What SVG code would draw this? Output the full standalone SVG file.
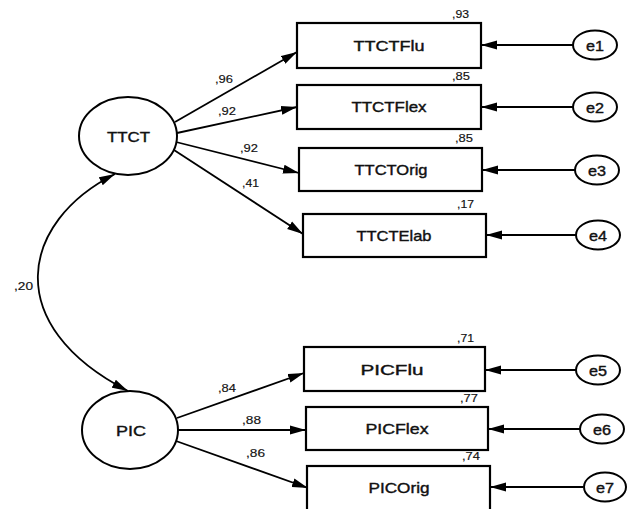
<svg xmlns="http://www.w3.org/2000/svg" width="627" height="509" viewBox="0 0 627 509">
<defs>
<style>
.box{fill:#fff;stroke:#000;stroke-width:2.2}
.lat{fill:#fff;stroke:#000;stroke-width:2}
.err{fill:#fff;stroke:#000;stroke-width:2}
.lbl{font-family:"Liberation Sans",Arial,sans-serif;font-size:15px;fill:#111;stroke:#111;stroke-width:0.4;text-anchor:middle}
.num{font-family:"Liberation Sans",Arial,sans-serif;font-size:10.5px;fill:#111;stroke:#111;stroke-width:0.15}
.con{fill:none;stroke:#000;stroke-width:1.8;marker-end:url(#ah)}
</style>
<marker id="ah" viewBox="0 0 16 10" refX="16" refY="5" markerWidth="16" markerHeight="10" markerUnits="userSpaceOnUse" orient="auto-start-reverse">
<path d="M0,0.5 L16,5 L0,9.5 Z" fill="#000"/>
</marker>
</defs>
<rect width="627" height="509" fill="#fff"/>

<g id="connectors">
<path class="con" d="M115,174 C20,222 0,325 128,391" marker-start="url(#ah)"/>
<line class="con" x1="175" y1="122" x2="297" y2="52"/>
<line class="con" x1="177" y1="133" x2="297" y2="107"/>
<line class="con" x1="176" y1="142" x2="299" y2="173"/>
<line class="con" x1="174" y1="150" x2="303" y2="234"/>
<line class="con" x1="177" y1="418" x2="304" y2="373"/>
<line class="con" x1="178" y1="430" x2="306" y2="430"/>
<line class="con" x1="176" y1="441" x2="308" y2="488"/>
<line class="con" x1="573" y1="45" x2="481" y2="45"/>
<line class="con" x1="573" y1="107" x2="481" y2="107"/>
<line class="con" x1="575" y1="170" x2="482" y2="170"/>
<line class="con" x1="576" y1="235" x2="486" y2="235"/>
<line class="con" x1="576" y1="370" x2="485" y2="370"/>
<line class="con" x1="580" y1="429" x2="488" y2="429"/>
<line class="con" x1="583" y1="487" x2="490" y2="487"/>
<text class="num" x="215" y="83" textLength="18" lengthAdjust="spacingAndGlyphs">,96</text>
<text class="num" x="218" y="115" textLength="18" lengthAdjust="spacingAndGlyphs">,92</text>
<text class="num" x="240" y="152" textLength="18" lengthAdjust="spacingAndGlyphs">,92</text>
<text class="num" x="242" y="187" textLength="17" lengthAdjust="spacingAndGlyphs">,41</text>
<text class="num" x="218" y="392" textLength="18" lengthAdjust="spacingAndGlyphs">,84</text>
<text class="num" x="242" y="424" textLength="19" lengthAdjust="spacingAndGlyphs">,88</text>
<text class="num" x="246" y="457" textLength="19" lengthAdjust="spacingAndGlyphs">,86</text>
<text class="num" x="14" y="290" textLength="19" lengthAdjust="spacingAndGlyphs">,20</text>
</g>

<g id="TTCT">
<ellipse class="lat" cx="128" cy="136" rx="49" ry="39"/>
<text class="lbl" x="128.5" y="142" textLength="43" lengthAdjust="spacingAndGlyphs">TTCT</text>
</g>
<g id="PIC">
<ellipse class="lat" cx="130" cy="430" rx="48" ry="39"/>
<text class="lbl" x="131" y="436" textLength="30" lengthAdjust="spacingAndGlyphs">PIC</text>
</g>

<g id="TTCTFlu">
<rect class="box" x="297" y="23" width="184" height="45"/>
<text class="lbl" x="389" y="51" textLength="71" lengthAdjust="spacingAndGlyphs">TTCTFlu</text>
<text class="num" x="452" y="18" textLength="17" lengthAdjust="spacingAndGlyphs">,93</text>
</g>
<g id="TTCTFlex">
<rect class="box" x="297" y="85" width="184" height="44"/>
<text class="lbl" x="389" y="112" textLength="75" lengthAdjust="spacingAndGlyphs">TTCTFlex</text>
<text class="num" x="452" y="80" textLength="18" lengthAdjust="spacingAndGlyphs">,85</text>
</g>
<g id="TTCTOrig">
<rect class="box" x="299" y="148" width="183" height="43"/>
<text class="lbl" x="391" y="175" textLength="73" lengthAdjust="spacingAndGlyphs">TTCTOrig</text>
<text class="num" x="455" y="142" textLength="18" lengthAdjust="spacingAndGlyphs">,85</text>
</g>
<g id="TTCTElab">
<rect class="box" x="303" y="214" width="183" height="43"/>
<text class="lbl" x="394" y="241" textLength="75" lengthAdjust="spacingAndGlyphs">TTCTElab</text>
<text class="num" x="457" y="208" textLength="17" lengthAdjust="spacingAndGlyphs">,17</text>
</g>
<g id="PICFlu">
<rect class="box" x="304" y="347" width="181" height="44"/>
<text class="lbl" x="392" y="375" textLength="63" lengthAdjust="spacingAndGlyphs">PICFlu</text>
<text class="num" x="457" y="342" textLength="17" lengthAdjust="spacingAndGlyphs">,71</text>
</g>
<g id="PICFlex">
<rect class="box" x="306" y="407" width="182" height="43"/>
<text class="lbl" x="397" y="434" textLength="63" lengthAdjust="spacingAndGlyphs">PICFlex</text>
<text class="num" x="460" y="402" textLength="18" lengthAdjust="spacingAndGlyphs">,77</text>
</g>
<g id="PICOrig">
<rect class="box" x="307" y="466" width="183" height="46"/>
<text class="lbl" x="399" y="493" textLength="61" lengthAdjust="spacingAndGlyphs">PICOrig</text>
<text class="num" x="462" y="460" textLength="18" lengthAdjust="spacingAndGlyphs">,74</text>
</g>

<g id="e1"><ellipse class="err" cx="595" cy="45" rx="22" ry="14.5"/><text class="lbl" x="595" y="50.5" textLength="18" lengthAdjust="spacingAndGlyphs">e1</text></g>
<g id="e2"><ellipse class="err" cx="595" cy="107" rx="22" ry="14.5"/><text class="lbl" x="595" y="112.5" textLength="18" lengthAdjust="spacingAndGlyphs">e2</text></g>
<g id="e3"><ellipse class="err" cx="597" cy="170" rx="22" ry="14.5"/><text class="lbl" x="597" y="175.5" textLength="18" lengthAdjust="spacingAndGlyphs">e3</text></g>
<g id="e4"><ellipse class="err" cx="598" cy="235" rx="22" ry="14.5"/><text class="lbl" x="598" y="240.5" textLength="18" lengthAdjust="spacingAndGlyphs">e4</text></g>
<g id="e5"><ellipse class="err" cx="598" cy="370" rx="22" ry="14.5"/><text class="lbl" x="598" y="375.5" textLength="18" lengthAdjust="spacingAndGlyphs">e5</text></g>
<g id="e6"><ellipse class="err" cx="602" cy="429" rx="22" ry="14.5"/><text class="lbl" x="602" y="434.5" textLength="18" lengthAdjust="spacingAndGlyphs">e6</text></g>
<g id="e7"><ellipse class="err" cx="605" cy="487" rx="21" ry="14.5"/><text class="lbl" x="605" y="492.5" textLength="18" lengthAdjust="spacingAndGlyphs">e7</text></g>
</svg>
